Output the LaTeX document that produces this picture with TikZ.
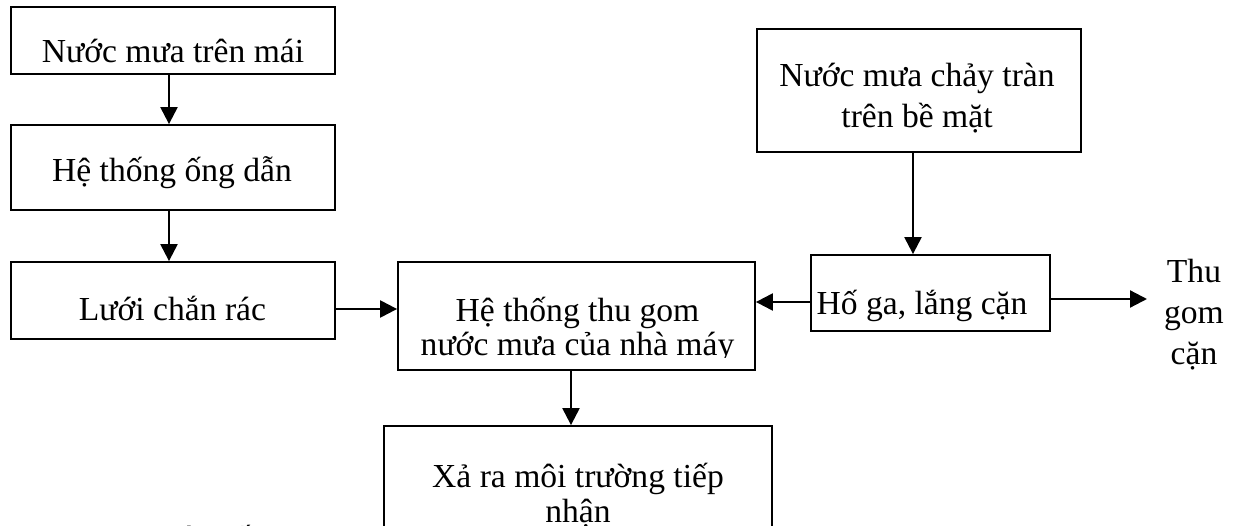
\documentclass[tikz,border=0pt]{standalone}
\usepackage{fontspec}
\setmainfont{Liberation Serif}
\usetikzlibrary{arrows.meta}
\begin{document}
\begin{tikzpicture}[x=1pt,y=-1pt,
  box/.style={draw=black,line width=1.8pt,inner sep=0pt,fill=none},
  txt/.style={anchor=base,inner sep=0pt,font=\fontsize{33.6}{41}\selectfont},
  arr/.style={line width=2.2pt,-{Triangle[length=17pt,width=17pt]}}]
\useasboundingbox (0,0) rectangle (1235,526);
\clip (0,0) rectangle (1235,526);
\fill[white] (0,0) rectangle (1235,526);
% boxes
\node[box,minimum width=324pt,minimum height=67pt] (b1) at (173,40.5) {};
\node[box,minimum width=324pt,minimum height=85pt] (b2) at (173,167.5) {};
\node[box,minimum width=324pt,minimum height=77pt] (b3) at (173,300.5) {};
\node[box,minimum width=357pt,minimum height=108pt] (c) at (576.5,316) {};
\node[box,minimum width=388pt,minimum height=130pt] (d) at (578,491) {};
\node[box,minimum width=324pt,minimum height=123pt] (r1) at (919,90.5) {};
\node[box,minimum width=239pt,minimum height=76pt] (r2) at (930.5,293) {};
% texts
\node[txt] (t1) at (173,63) {Nước mưa trên mái};
\node[txt] (t2) at (172,182) {Hệ thống ống dẫn};
\node[txt] (t3) at (172.5,321) {Lưới chắn rác};
\begin{scope}
\clip (399,263) rectangle (754,358);
\node[txt] (tc1) at (577.5,322) {Hệ thống thu gom};
\node[txt] (tc2) at (577.5,356) {nước mưa của nhà máy};
\end{scope}
\node[txt] (td1) at (578,488) {Xả ra môi trường tiếp};
\node[txt] (td2) at (578,522) {nhận};
\node[txt] (tr1a) at (917,87) {Nước mưa chảy tràn};
\node[txt] (tr1b) at (917,128) {trên bề mặt};
\node[txt] (tr2) at (922,315) {Hố ga, lắng cặn};
\node[txt] (tt1) at (1194,283) {Thu};
\node[txt] (tt2) at (1194,324) {gom};
\node[txt] (tt3) at (1194,365) {cặn};
\node[txt] (acc1) at (192,549) {ờ};
\node[txt] (acc2) at (242,549) {ế};
% connectors
\coordinate (thu) at (1147,299);
\draw[arr] ([xshift=-4pt]b1.south) -- ([xshift=-4pt]b2.north);
\draw[arr] ([xshift=-4pt]b2.south) -- ([xshift=-4pt]b3.north);
\draw[arr] (b3.east |- 0,309) -- (c.west |- 0,309);
\draw[arr] (r2.west |- 0,302) -- (c.east |- 0,302);
\draw[arr] (r2.east |- 0,299) -- (thu);
\draw[arr] (r1.south -| 913,0) -- (r2.north -| 913,0);
\draw[arr] (c.south -| 571,0) -- (d.north -| 571,0);
\end{tikzpicture}
\end{document}
